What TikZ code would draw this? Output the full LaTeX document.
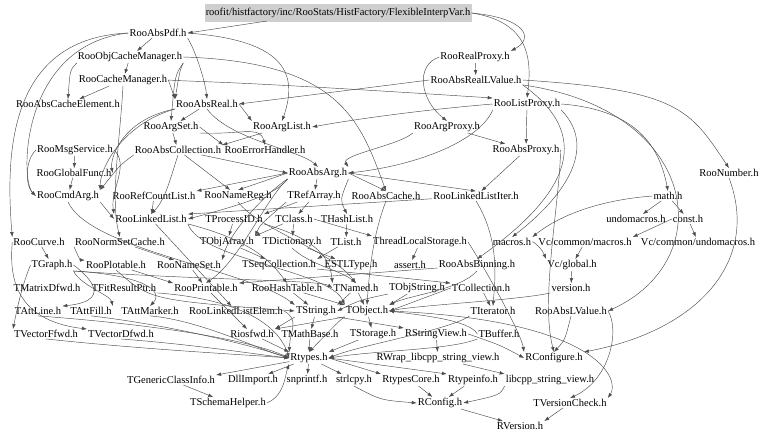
\documentclass[tikz,border=0pt]{standalone}
\usepackage{fontspec}
\setmainfont{Liberation Serif}
\usetikzlibrary{arrows.meta}
\begin{document}
\begin{tikzpicture}[x=1pt,y=-1pt,
  lbl/.style={inner sep=1pt,font=\fontsize{10.5}{12}\selectfont},
  rootbox/.style={fill=black!19,inner sep=0pt,minimum width=267pt,minimum height=18pt,font=\fontsize{10.5}{12}\selectfont},
  edge/.style={draw=black!70,line width=0.45pt,-{Latex[length=5pt,width=3.6pt]}}]
\useasboundingbox (0,0) rectangle (768,439);
% nodes
\node[rootbox] (root) at (338,13) {roofit/histfactory/inc/RooStats/HistFactory/FlexibleInterpVar.h};
\node[lbl] (pdf) at (158,33) {RooAbsPdf.h};
\node[lbl] (ocm) at (130,57) {RooObjCacheManager.h};
\node[lbl] (cm) at (123,80) {RooCacheManager.h};
\node[lbl] (ace) at (68,104) {RooAbsCacheElement.h};
\node[lbl] (areal) at (207,104) {RooAbsReal.h};
\node[lbl] (aset) at (171,127) {RooArgSet.h};
\node[lbl] (alist) at (282,127) {RooArgList.h};
\node[lbl] (rproxy) at (475,57) {RooRealProxy.h};
\node[lbl] (arlv) at (476,80) {RooAbsRealLValue.h};
\node[lbl] (lproxy) at (527,104) {RooListProxy.h};
\node[lbl] (aproxy) at (447,127) {RooArgProxy.h};
\node[lbl] (msg) at (75,150) {RooMsgService.h};
\node[lbl] (acoll) at (178,150) {RooAbsCollection.h};
\node[lbl] (err) at (265,150) {RooErrorHandler.h};
\node[lbl] (absproxy) at (526,150) {RooAbsProxy.h};
\node[lbl] (gfunc) at (74,173) {RooGlobalFunc.h};
\node[lbl] (aarg) at (318,173) {RooAbsArg.h};
\node[lbl] (num) at (729,173) {RooNumber.h};
\node[lbl] (cmd) at (68,196) {RooCmdArg.h};
\node[lbl] (rcl) at (154,196) {RooRefCountList.h};
\node[lbl] (nreg) at (238,196) {RooNameReg.h};
\node[lbl] (tref) at (314,196) {TRefArray.h};
\node[lbl] (acache) at (386,196) {RooAbsCache.h};
\node[lbl] (lliter) at (476,196) {RooLinkedListIter.h};
\node[lbl] (math) at (668,196) {math.h};
\node[lbl] (ll) at (151,219) {RooLinkedList.h};
\node[lbl] (pid) at (234,219) {TProcessID.h};
\node[lbl] (tclass) at (294,219) {TClass.h};
\node[lbl] (hlist) at (347,219) {THashList.h};
\node[lbl] (undom) at (636,219) {undomacros.h};
\node[lbl] (const) at (688,219) {const.h};
\node[lbl] (curve) at (39,242) {RooCurve.h};
\node[lbl] (nsc) at (120,242) {RooNormSetCache.h};
\node[lbl] (oarr) at (227,242) {TObjArray.h};
\node[lbl] (dict) at (292,242) {TDictionary.h};
\node[lbl] (tlist) at (346,242) {TList.h};
\node[lbl] (tls) at (420,242) {ThreadLocalStorage.h};
\node[lbl] (macros) at (512,242) {macros.h};
\node[lbl] (vcmac) at (585,242) {Vc/common/macros.h};
\node[lbl] (vcundo) at (698,242) {Vc/common/undomacros.h};
\node[lbl] (graph) at (52,265) {TGraph.h};
\node[lbl] (plot) at (116,265) {RooPlotable.h};
\node[lbl] (nset) at (189,265) {RooNameSet.h};
\node[lbl] (seq) at (279,265) {TSeqCollection.h};
\node[lbl] (estl) at (351,265) {ESTLType.h};
\node[lbl] (assert) at (410,265) {assert.h};
\node[lbl] (abin) at (477,265) {RooAbsBinning.h};
\node[lbl] (vcglob) at (572,265) {Vc/global.h};
\node[lbl] (mdf) at (47,288) {TMatrixDfwd.h};
\node[lbl] (frp) at (124,288) {TFitResultPtr.h};
\node[lbl] (print) at (206,288) {RooPrintable.h};
\node[lbl] (htab) at (287,288) {RooHashTable.h};
\node[lbl] (named) at (356,288) {TNamed.h};
\node[lbl] (ostr) at (417,288) {TObjString.h};
\node[lbl] (coll) at (481,288) {TCollection.h};
\node[lbl] (version) at (571,288) {version.h};
\node[lbl] (aline) at (38,311) {TAttLine.h};
\node[lbl] (afill) at (91,311) {TAttFill.h};
\node[lbl] (amark) at (150,311) {TAttMarker.h};
\node[lbl] (lle) at (236,311) {RooLinkedListElem.h};
\node[lbl] (tstring) at (316,311) {TString.h};
\node[lbl] (tobject) at (367,311) {TObject.h};
\node[lbl] (iter) at (493,311) {TIterator.h};
\node[lbl] (alv) at (571,311) {RooAbsLValue.h};
\node[lbl] (vff) at (46,334) {TVectorFfwd.h};
\node[lbl] (vdf) at (121,334) {TVectorDfwd.h};
\node[lbl] (iosfwd) at (252,334) {Riosfwd.h};
\node[lbl] (mathb) at (310,334) {TMathBase.h};
\node[lbl] (stor) at (373,334) {TStorage.h};
\node[lbl] (rsv) at (436,334) {RStringView.h};
\node[lbl] (buf) at (499,334) {TBuffer.h};
\node[lbl] (rtypes) at (309,358) {Rtypes.h};
\node[lbl] (rwrap) at (438,358) {RWrap\_libcpp\_string\_view.h};
\node[lbl] (rconfigure) at (554,358) {RConfigure.h};
\node[lbl] (gci) at (171,380) {TGenericClassInfo.h};
\node[lbl] (dll) at (253,380) {DllImport.h};
\node[lbl] (snp) at (307,380) {snprintf.h};
\node[lbl] (strl) at (354,380) {strlcpy.h};
\node[lbl] (rtc) at (411,380) {RtypesCore.h};
\node[lbl] (rti) at (473,380) {Rtypeinfo.h};
\node[lbl] (lsv) at (550,380) {libcpp\_string\_view.h};
\node[lbl] (schema) at (228,403) {TSchemaHelper.h};
\node[lbl] (rconfig) at (440,403) {RConfig.h};
\node[lbl] (tvc) at (570,403) {TVersionCheck.h};
\node[lbl] (rversion) at (520,426) {RVersion.h};
\coordinate (rootout) at (267,21);
% edges
\draw[edge] (rootout) -- (pdf.east);
\draw[edge] (root.east) .. controls (525,18) and (535,38) .. (rproxy.north east);
\draw[edge] (root.east) .. controls (530,22) and (532,60) .. (lproxy.north);
\draw[edge] (pdf) -- (ocm);
\draw[edge] (pdf.south east) .. controls (195,50) and (205,80) .. (areal.north);
\draw[edge] (pdf.west) .. controls (10,38) and (5,150) .. (curve.north west);
\draw[edge] (pdf.west) .. controls (20,45) and (20,180) .. (cmd.west);
\draw[edge] (pdf.east) .. controls (280,40) and (300,70) .. (alist.north);
\draw[edge] (ocm) -- (cm);
\draw[edge] (ocm.south west) .. controls (70,70) .. (ace.north);
\draw[edge] (ocm.south east) .. controls (175,75) .. (aset.north);
\draw[edge] (ocm.east) .. controls (340,62) and (360,120) .. (acache.north);
\draw[edge] (ocm.south east) .. controls (180,70) .. (areal.north west);
\draw[edge] (cm) -- (ace);
\draw[edge] (cm.east) -- (areal.north west);
\draw[edge] (cm.east) .. controls (195,82) and (215,80) .. (lproxy.north west);
\draw[edge] (cm.south) .. controls (120,140) and (110,200) .. (nsc.north);
\draw[edge] (rproxy) -- (arlv);
\draw[edge] (rproxy.west) .. controls (415,65) and (420,100) .. (aproxy.north);
\draw[edge] (arlv.west) -- (areal.east);
\draw[edge] (arlv.east) .. controls (680,90) and (690,110) .. (num.north);
\draw[edge] (arlv.south east) .. controls (700,110) and (720,260) .. (alv.east);
\draw[edge] (arlv.south east) .. controls (600,140) and (560,200) .. (abin.north);
\draw[edge] (lproxy) -- (absproxy);
\draw[edge] (lproxy.west) .. controls (420,110) and (350,120) .. (alist.east);
\draw[edge] (lproxy.east) .. controls (640,110) and (660,150) .. (math.north);
\draw[edge] (lproxy.south west) .. controls (480,140) and (420,165) .. (aarg.east);
\draw[edge] (lproxy.south east) .. controls (600,150) and (560,200) .. (macros.north);
\draw[edge] (aproxy.south west) .. controls (400,145) and (340,155) .. (aarg.north east);
\draw[edge] (aproxy) -- (absproxy);
\draw[edge] (absproxy) -- (lliter);
\draw[edge] (absproxy.east) .. controls (560,200) and (540,300) .. (rconfigure.north);
\draw[edge] (areal) -- (aset);
\draw[edge] (areal.east) -- (alist.north west);
\draw[edge] (areal.south west) .. controls (120,120) and (110,160) .. (gfunc.east);
\draw[edge] (areal.south) .. controls (230,140) and (300,150) .. (aarg.north);
\draw[edge] (areal.south west) .. controls (120,125) and (100,170) .. (cmd.north east);
\draw[edge] (aset) -- (acoll);
\draw[edge] (aset.east) -- (err.north west);
\draw[edge] (aset.south east) .. controls (240,135) and (260,125) .. (err.north);
\draw[edge] (alist) -- (acoll.north east);
\draw[edge] (acoll) -- (aarg.west);
\draw[edge] (acoll) -- (nreg);
\draw[edge] (acoll.south west) .. controls (120,165) .. (cmd.north east);
\draw[edge] (acoll.south) .. controls (170,180) and (165,200) .. (ll.north);
\draw[edge] (msg) -- (gfunc);
\draw[edge] (msg.west) .. controls (25,160) and (25,185) .. (cmd.west);
\draw[edge] (msg.east) .. controls (130,165) and (110,190) .. (ll.north west);
\draw[edge] (gfunc) -- (cmd);
\draw[edge] (cmd.south east) -- (ll.west);
\draw[edge] (cmd.south) .. controls (90,250) and (250,270) .. (tstring.north west);
\draw[edge] (rcl) -- (ll);
\draw[edge] (aarg) -- (tref);
\draw[edge] (aarg.east) -- (acache.north);
\draw[edge] (aarg.east) -- (lliter.north);
\draw[edge] (aarg.west) -- (nreg.north);
\draw[edge] (aarg.west) -- (rcl.north east);
\draw[edge] (aarg.south west) .. controls (280,190) and (260,200) .. (ll.east);
\draw[edge] (aarg.south east) .. controls (340,200) .. (hlist.north);
\draw[edge] (aarg.south west) .. controls (270,190) and (230,230) .. (nset.north east);
\draw[edge] (aarg.south west) .. controls (265,200) and (240,260) .. (print.north);
\draw[edge] (nreg.south) .. controls (260,230) and (330,250) .. (named.north);
\draw[edge] (tref) -- (pid.north east);
\draw[edge] (tref) -- (tclass);
\draw[edge] (tref.south west) .. controls (260,225) .. (oarr.north east);
\draw[edge] (acache.south) .. controls (375,230) and (370,260) .. (tobject.north);
\draw[edge] (lliter) -- (ll.north east);
\draw[edge] (lliter.south) .. controls (500,240) and (495,280) .. (iter.north);
\draw[edge] (math) -- (undom);
\draw[edge] (math) -- (const);
\draw[edge] (math.west) .. controls (600,200) and (560,215) .. (macros.north east);
\draw[edge] (const.west) -- (vcmac.north east);
\draw[edge] (const) -- (vcundo);
\draw[edge] (vcmac) -- (vcglob);
\draw[edge] (macros.east) .. controls (530,240) and (540,245) .. (vcglob.north west);
\draw[edge] (vcglob) -- (version);
\draw[edge] (num.south) .. controls (760,260) and (700,330) .. (rconfigure.north east);
\draw[edge] (ll) -- (lle);
\draw[edge] (ll.south east) .. controls (250,240) and (270,260) .. (htab.north);
\draw[edge] (ll.south east) .. controls (200,260) and (330,270) .. (tobject.north west);
\draw[edge] (pid) -- (oarr);
\draw[edge] (pid.south east) .. controls (320,240) and (330,260) .. (named.north west);
\draw[edge] (tclass) -- (dict);
\draw[edge] (tclass) -- (oarr.north east);
\draw[edge] (tclass.east) -- (tls.north west);
\draw[edge] (hlist) -- (tlist);
\draw[edge] (tlist) -- (seq.north east);
\draw[edge] (oarr) -- (seq);
\draw[edge] (dict) -- (estl);
\draw[edge] (dict.south) .. controls (310,265) and (340,270) .. (named.north);
\draw[edge] (tls) -- (assert);
\draw[edge] (tls.east) .. controls (480,260) and (520,330) .. (rconfigure.north west);
\draw[edge] (curve) -- (graph);
\draw[edge] (curve.west) .. controls (10,270) and (10,320) .. (vdf.north west);
\draw[edge] (nsc) -- (nset);
\draw[edge] (nsc.south west) .. controls (80,260) .. (plot.north west);
\draw[edge] (graph.east) .. controls (80,270) and (120,300) .. (aline.north east);
\draw[edge] (graph.south east) .. controls (80,285) and (110,295) .. (afill.north east);
\draw[edge] (graph.south east) .. controls (140,275) and (165,290) .. (amark.north);
\draw[edge] (graph.west) .. controls (20,290) and (15,320) .. (vff.north west);
\draw[edge] (graph.south east) .. controls (200,280) and (320,280) .. (named.west);
\draw[edge] (plot) -- (print.north west);
\draw[edge] (plot.south) .. controls (150,300) .. (tstring.west);
\draw[edge] (nset) -- (print);
\draw[edge] (seq) -- (coll.north west);
\draw[edge] (abin) -- (print.north east);
\draw[edge] (abin.south) .. controls (460,290) and (410,295) .. (tobject.north east);
\draw[edge] (print) -- (iosfwd);
\draw[edge] (frp.south east) .. controls (250,300) and (280,330) .. (rtypes.west);
\draw[edge] (htab) -- (tobject.north west);
\draw[edge] (htab) -- (tstring);
\draw[edge] (named) -- (tobject);
\draw[edge] (named) -- (tstring.north east);
\draw[edge] (ostr) -- (tobject.north east);
\draw[edge] (ostr.south west) .. controls (360,300) .. (tstring.east);
\draw[edge] (coll.west) -- (tobject.east);
\draw[edge] (coll) -- (iter);
\draw[edge] (version.south west) .. controls (520,300) and (420,305) .. (tobject.east);
\draw[edge] (aline.south) .. controls (160,325) and (250,340) .. (rtypes.west);
\draw[edge] (afill.south) .. controls (170,325) and (250,345) .. (rtypes.west);
\draw[edge] (amark.south) .. controls (200,320) and (260,350) .. (rtypes.west);
\draw[edge] (vff.south) .. controls (150,350) and (250,355) .. (rtypes.west);
\draw[edge] (vdf.south) .. controls (200,345) and (260,355) .. (rtypes.west);
\draw[edge] (lle.east) .. controls (300,320) and (290,330) .. (rtypes.north west);
\draw[edge] (tstring) -- (mathb);
\draw[edge] (tstring.south east) -- (rsv.north west);
\draw[edge] (tstring.south west) -- (iosfwd.north east);
\draw[edge] (tobject) -- (stor);
\draw[edge] (tobject.south west) .. controls (340,320) .. (rtypes.north);
\draw[edge] (tobject.south west) -- (iosfwd.north east);
\draw[edge] (tobject.east) .. controls (600,320) and (620,380) .. (tvc.north east);
\draw[edge] (iter.south west) .. controls (450,330) and (360,345) .. (rtypes.east);
\draw[edge] (buf.west) .. controls (470,320) and (420,315) .. (tobject.east);
\draw[edge] (buf.south west) .. controls (450,350) and (380,350) .. (rtypes.east);
\draw[edge] (alv.south) .. controls (565,340) .. (rconfigure.north);
\draw[edge] (alv.east) .. controls (620,330) and (610,380) .. (tvc.north);
\draw[edge] (mathb) -- (rtypes);
\draw[edge] (stor) -- (rtypes.north east);
\draw[edge] (rsv) -- (rwrap);
\draw[edge] (rsv.east) .. controls (500,345) .. (rconfigure.west);
\draw[edge] (rwrap) -- (lsv.north west);
\draw[edge] (iosfwd) -- (rtypes.north west);
\draw[edge] (rtypes) -- (gci.north east);
\draw[edge] (rtypes) -- (dll);
\draw[edge] (rtypes) -- (snp);
\draw[edge] (rtypes) -- (strl);
\draw[edge] (rtypes.east) -- (rtc.north west);
\draw[edge] (rtypes.east) -- (rti.north west);
\draw[edge] (rtc) -- (rconfig);
\draw[edge] (rti) -- (rconfig);
\draw[edge] (lsv.south west) .. controls (500,395) .. (rconfig.east);
\draw[edge] (strl.south) .. controls (380,400) .. (rconfig.west);
\draw[edge] (gci) -- (schema);
\draw[edge] (schema.east) .. controls (285,395) and (285,375) .. (rtypes.south west);
\draw[edge] (rconfig) -- (rversion);
\draw[edge] (tvc) -- (rversion.north east);
\end{tikzpicture}
\end{document}
